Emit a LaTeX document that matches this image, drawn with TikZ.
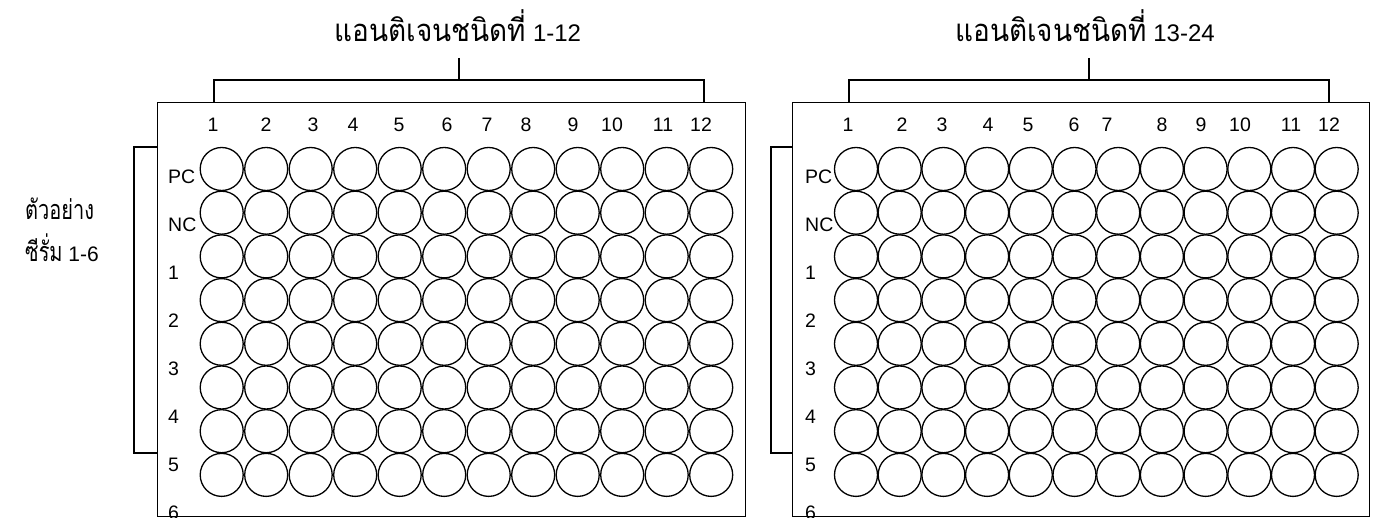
\documentclass[tikz,border=0pt]{standalone}
\usepackage{fontspec}
\setmainfont{Liberation Sans}
\newfontfamily\thai[Script=Thai]{Loma}
\newcommand{\thbig}[1]{\scalebox{0.9}[1]{\fontsize{31}{31}\selectfont\thai #1}}
\newcommand{\thside}[1]{\scalebox{0.74}[1]{\fontsize{27}{27}\selectfont\thai #1}}
\begin{document}
\begin{tikzpicture}[x=1pt,y=-1pt,
  well/.style={circle, draw, line width=1.3pt, minimum size=43pt, inner sep=0pt},
  plate/.style={draw, line width=1.3pt, anchor=north west, inner sep=0pt},
  brk/.style={line width=1.3pt},
  lbl/.style={font=\fontsize{19.5}{19.5}\selectfont, inner sep=0pt},
  side/.style={font=\fontsize{21}{21}\selectfont, inner sep=0pt},
  ttl/.style={font=\fontsize{24}{24}\selectfont, inner sep=0pt, anchor=base}]
\useasboundingbox (0,0) rectangle (1377,518);
\clip (0,0) rectangle (1377,518);
% plates
\node[plate, minimum width=588pt, minimum height=414pt] (plateL) at (157,102) {};
\node[plate, minimum width=577pt, minimum height=414pt] (plateR) at (792,102) {};
% wells
\foreach \r in {0,...,7}{
  \foreach \c in {1,...,12}{
    \node[well] (L-\r-\c) at ({221.7+44.5*(\c-1)},{169+43.7*\r}) {};
    \node[well] (R-\r-\c) at ({856+43.7*(\c-1)},{169+43.7*\r}) {};
  }
}
% column numbers
\foreach \x [count=\i] in {213,266,313,353,399,447,487,526,573,612,663,701}{
  \node[lbl] (cL-\i) at (\x,125) {\i};
}
\foreach \x [count=\i] in {848,902,942,988,1028,1074,1107,1162,1201,1240,1291,1329}{
  \node[lbl] (cR-\i) at (\x,125) {\i};
}
% row labels
\foreach \t [count=\i from 0] in {PC,NC,1,2,3,4,5,6}{
  \node[lbl, anchor=west] (rL-\i) at (168,{177+48*\i}) {\t};
  \node[lbl, anchor=west] (rR-\i) at (805,{177+48*\i}) {\t};
}
% titles
\node[ttl] (titleL) at (458,42) {\thbig{แอนติเจนชนิดที่} 1-12};
\node[ttl] (titleR) at (1085,42) {\thbig{แอนติเจนชนิดที่} 13-24};
% top brackets
\coordinate (sL) at (459,58); \coordinate (sLb) at (459,80);
\coordinate (tLa) at (214,80); \coordinate (tLb) at (704,80);
\draw[brk] (tLa |- plateL.north) -- (tLa) -- (tLb) -- (tLb |- plateL.north);
\draw[brk] (sL) -- (sLb);
\coordinate (sR) at (1089,58); \coordinate (sRb) at (1089,80);
\coordinate (tRa) at (849,80); \coordinate (tRb) at (1329,80);
\draw[brk] (tRa |- plateR.north) -- (tRa) -- (tRb) -- (tRb |- plateR.north);
\draw[brk] (sR) -- (sRb);
% side brackets
\coordinate (lLa) at (134,147); \coordinate (lLb) at (134,453);
\draw[brk] (plateL.west |- lLa) -- (lLa) -- (lLb) -- (plateL.west |- lLb);
\coordinate (lRa) at (771,147); \coordinate (lRb) at (771,453);
\draw[brk] (plateR.west |- lRa) -- (lRa) -- (lRb) -- (plateR.west |- lRb);
% side label
\node[side, anchor=base west] (sideA) at (25,220) {\thside{ตัวอย่าง}};
\node[side, anchor=base west] (sideB) at (25,262) {\thside{ซีรั่ม} 1-6};
\end{tikzpicture}
\end{document}
